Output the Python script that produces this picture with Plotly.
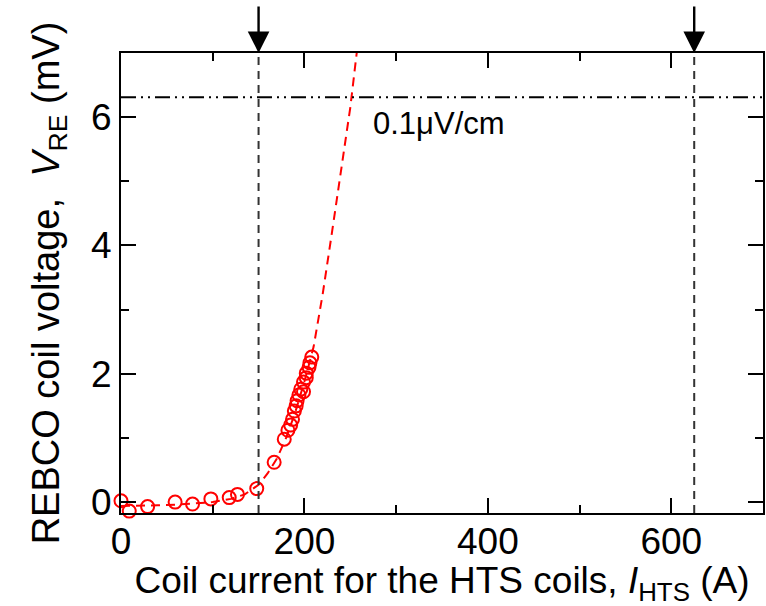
import plotly.graph_objects as go

meas_I = [0, 9, 29, 59, 78, 98, 118, 127, 148, 167, 178, 182, 185, 187, 189, 191, 192, 194, 196, 199, 199, 202, 202, 205, 206, 208]
meas_V = [0.02, -0.14, -0.07, 0.0, -0.03, 0.05, 0.07, 0.12, 0.21, 0.62, 0.98, 1.12, 1.20, 1.29, 1.42, 1.50, 1.58, 1.67, 1.76, 1.72, 1.87, 1.94, 2.01, 2.10, 2.17, 2.26]

# Fitted curve
fit_I = [0, 20, 40, 60, 80, 100, 120, 135, 150, 160, 170, 180, 190, 200, 210, 220, 230, 240, 250, 257]
fit_V = [-0.06, -0.06, -0.05, -0.04, -0.02, 0.0, 0.05, 0.12, 0.27, 0.45, 0.68, 1.0, 1.4, 1.88, 2.42, 3.25, 4.2, 5.2, 6.15, 7.0]

# Reference lines
marked_I = [150, 625]
criterion_V = 6.31
criterion_label = "0.1\u03bcV/cm"

x_ticks = [0, 200, 400, 600]
y_ticks = [0, 2, 4, 6]

FONT = "Liberation Sans, Arial, sans-serif"

fig = go.Figure()

fig.add_trace(go.Scatter(
    x=fit_I, y=fit_V, mode="lines",
    line=dict(color="#ff0000", width=2, dash="9px,6px"),
    showlegend=False, hoverinfo="skip",
))
fig.add_trace(go.Scatter(
    x=meas_I, y=meas_V, mode="markers",
    marker=dict(symbol="circle-open", size=13, color="#ff0000", line=dict(width=2)),
    showlegend=False, cliponaxis=False,
))

for xi in marked_I:
    fig.add_shape(type="line", x0=xi, x1=xi, y0=0, y1=1, xref="x", yref="paper",
                  line=dict(color="#333333", width=2, dash="8px,6px"))
    fig.add_annotation(x=xi, y=1, xref="x", yref="paper", ax=0, ay=-48,
                       showarrow=True, arrowhead=2, arrowsize=1.8, arrowwidth=2.4,
                       arrowcolor="black", text="")

fig.add_shape(type="line", x0=0, x1=1, y0=criterion_V, y1=criterion_V, xref="paper", yref="y",
              line=dict(color="black", width=1.8, dash="15px,5px,2px,5px,2px,5px"))
fig.add_annotation(x=273, y=5.9, xref="x", yref="y", text=criterion_label, showarrow=False,
                   xanchor="left", yanchor="middle", font=dict(size=31, color="black", family=FONT))

axis_common = dict(
    showline=True, linecolor="black", linewidth=2, mirror="ticks",
    ticks="inside", ticklen=15, tickwidth=2, tickcolor="black",
    showgrid=False, zeroline=False,
    tickfont=dict(size=37, color="black", family=FONT),
)

fig.update_xaxes(
    range=[0, 700], tickvals=x_ticks, ticklabelstandoff=-5,
    minor=dict(dtick=100, tick0=0, ticklen=8, tickwidth=2, tickcolor="black", ticks="inside"),
    title=dict(text="Coil current for the HTS coils, <i>I</i><sub>HTS</sub> (A)",
               font=dict(size=37, color="black", family=FONT), standoff=14),
    **axis_common,
)
fig.update_yaxes(
    range=[-0.17, 7.0], tickvals=y_ticks,
    minor=dict(dtick=1, tick0=0, ticklen=8, tickwidth=2, tickcolor="black", ticks="inside"),
    title=dict(text="REBCO coil voltage,  <i>V</i><sub>RE</sub> (mV)",
               font=dict(size=38, color="black", family=FONT), standoff=20),
    **axis_common,
)

fig.update_layout(
    width=766, height=606,
    margin=dict(l=121, r=3, t=53, b=93, autoexpand=False),
    plot_bgcolor="white", paper_bgcolor="white",
    font=dict(family=FONT, color="black"),
)

fig.write_html("out.html")
